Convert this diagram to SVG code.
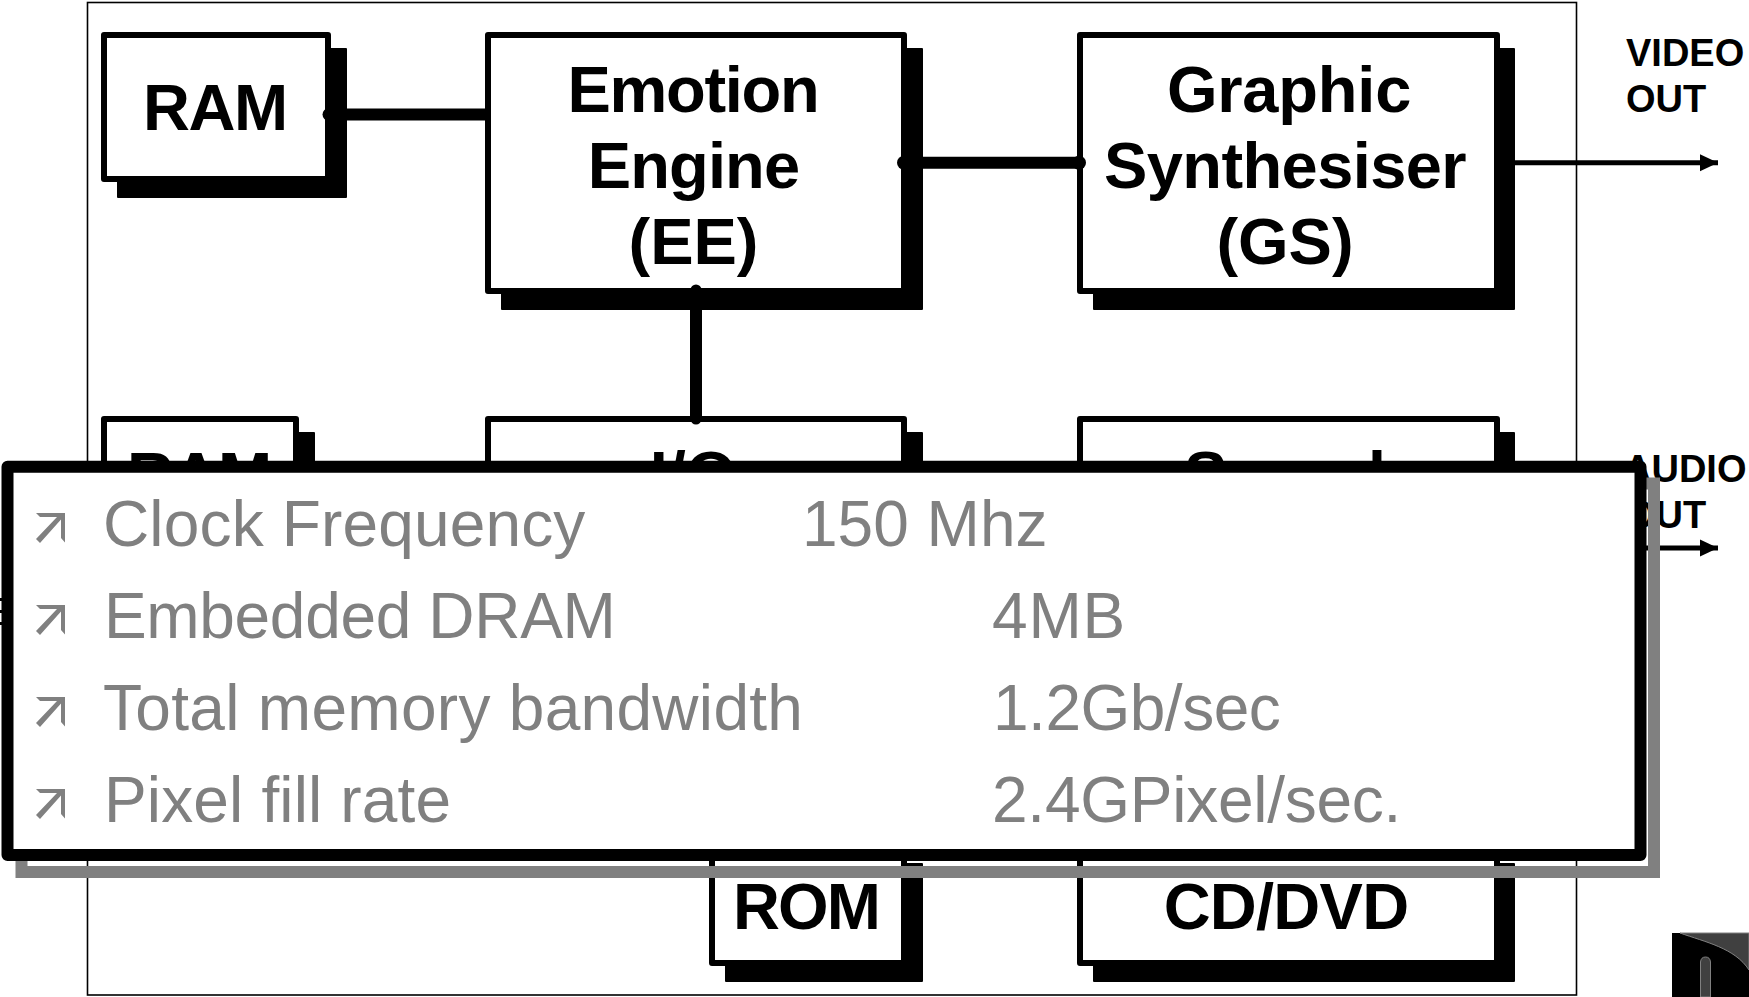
<svg xmlns="http://www.w3.org/2000/svg" width="1749" height="997" viewBox="0 0 1749 997">
<style>
.box{fill:#fff;stroke:#000;stroke-width:6;stroke-linejoin:round}
.shadow{fill:#000;stroke:#000;stroke-width:2;stroke-linejoin:round}
.lbl{font-family:"Liberation Sans",Arial,sans-serif;font-weight:700;font-size:65px;fill:#000}
.side{font-family:"Liberation Sans",Arial,sans-serif;font-weight:700;font-size:38px;fill:#000}
.item{font-family:"Liberation Sans",Arial,sans-serif;font-size:64px;fill:#808080}
.conn{stroke:#000;stroke-width:12;fill:none}
.out{stroke:#000;stroke-width:5;fill:none;marker-end:url(#head)}
.dot{fill:#000}
</style>
<defs>
<marker id="head" markerUnits="userSpaceOnUse" markerWidth="18" markerHeight="18" refX="18" refY="9" orient="auto"><path d="M0 0.5L18 9L0 17.5Z" fill="#000"/></marker>
<path id="bullet" d="M36 0H65V29.500L61 25V6.500L40 30L36 26L57 4H40Z" fill="#808080"/>
</defs>
<rect x="0" y="0" width="1749" height="997" fill="#fff"/>
<rect id="frame" x="87.500" y="2.500" width="1489" height="992.500" fill="none" stroke="#000" stroke-width="1.600"/>
<g id="mark-left" fill="#000"><rect x="0" y="598" width="2" height="3"/><rect x="0" y="610" width="2" height="3"/><rect x="0" y="622" width="2" height="3"/></g>
<g id="logo">
<rect x="1672" y="933" width="77" height="64" fill="#000"/>
<path d="M1680 933C1705 942 1735 948 1749 970V933Z" fill="#404040" stroke="#808080" stroke-width="1"/>
<path d="M1700.500 997V962Q1701 957 1705.500 957Q1710 957 1710.500 962V997Z" fill="#404040" stroke="#808080" stroke-width="1"/>
</g>
<g id="node-ram1"><rect class="shadow" x="118" y="49" width="228" height="148"/><rect class="box" x="104" y="35" width="224" height="144"/><text class="lbl" x="143" y="130" letter-spacing="-1.5">RAM</text></g>
<g id="node-ee"><rect class="shadow" x="502" y="49" width="420" height="260"/><rect class="box" x="488" y="35" width="416" height="256"/><text class="lbl" text-anchor="middle" x="693" y="112" letter-spacing="-1.3">Emotion</text><text class="lbl" text-anchor="middle" x="693.500" y="188" letter-spacing="-0.9">Engine</text><text class="lbl" text-anchor="middle" x="693.500" y="264">(EE)</text></g>
<g id="node-gs"><rect class="shadow" x="1094" y="49" width="420" height="260"/><rect class="box" x="1080" y="35" width="417" height="256"/><text class="lbl" text-anchor="middle" x="1289" y="112" letter-spacing="-0.2">Graphic</text><text class="lbl" text-anchor="middle" x="1285" y="188" letter-spacing="-0.6">Synthesiser</text><text class="lbl" text-anchor="middle" x="1285" y="264">(GS)</text></g>
<g id="node-ram2"><rect class="shadow" x="118" y="433" width="196" height="148"/><rect class="box" x="104" y="419" width="192" height="144"/><text class="lbl" x="127" y="498" letter-spacing="-1.5">RAM</text></g>
<g id="node-io"><rect class="shadow" x="502" y="433" width="420" height="148"/><rect class="box" x="488" y="419" width="416" height="144"/><text class="lbl" text-anchor="middle" x="693" y="497">I/O</text></g>
<g id="node-sound"><rect class="shadow" x="1094" y="433" width="420" height="148"/><rect class="box" x="1080" y="419" width="417" height="144"/><text class="lbl" text-anchor="middle" x="1285" y="497">Sound</text></g>
<g id="node-rom"><rect class="shadow" x="726" y="864" width="196" height="117"/><rect class="box" x="712" y="848" width="192" height="115"/><text class="lbl" x="733" y="929" letter-spacing="-1.9">ROM</text></g>
<g id="node-cd"><rect class="shadow" x="1094" y="864" width="420" height="117"/><rect class="box" x="1080" y="848" width="417" height="115"/><text class="lbl" text-anchor="middle" x="1286" y="929" letter-spacing="-0.75">CD/DVD</text></g>
<g id="connectors">
<path class="conn" d="M328 114.500H488"/><circle class="dot" cx="329" cy="114.500" r="6.500"/>
<path class="conn" d="M902 162.700H1080"/><circle class="dot" cx="904" cy="162.700" r="7"/><circle class="dot" cx="1079" cy="162.700" r="7"/>
<path class="conn" d="M696 288V419"/><circle class="dot" cx="696" cy="290" r="5.500"/><circle class="dot" cx="696" cy="419" r="5.500"/>
<path class="out" d="M1496 162.700H1718"/>
<path class="out" d="M1496 548H1718"/>
</g>
<g id="side-labels">
<text class="side" x="1626" y="66">VIDEO</text><text class="side" x="1626" y="112">OUT</text>
<text class="side" x="1624" y="482">AUDIO</text><text class="side" x="1626" y="528">OUT</text>
</g>
<g id="panel">
<rect x="21.500" y="483.500" width="1632.500" height="388.500" fill="none" stroke="#808080" stroke-width="12"/>
<rect x="7.500" y="466.700" width="1633" height="388.300" fill="#fff" stroke="#000" stroke-width="12" stroke-linejoin="round"/>
<use href="#bullet" y="513"/><use href="#bullet" y="605"/><use href="#bullet" y="697"/><use href="#bullet" y="789"/>
<text class="item" x="103" y="546" letter-spacing="0.15">Clock Frequency</text><text class="item" x="802" y="546">150 Mhz</text>
<text class="item" x="104" y="638" letter-spacing="-0.33">Embedded DRAM</text><text class="item" x="992" y="638" letter-spacing="0.8">4MB</text>
<text class="item" x="103" y="730" letter-spacing="0.3">Total memory bandwidth</text><text class="item" x="993" y="730" letter-spacing="-0.5">1.2Gb/sec</text>
<text class="item" x="104" y="822" letter-spacing="0.15">Pixel fill rate</text><text class="item" x="992" y="822" letter-spacing="-0.25">2.4GPixel/sec.</text>
</g>
</svg>
